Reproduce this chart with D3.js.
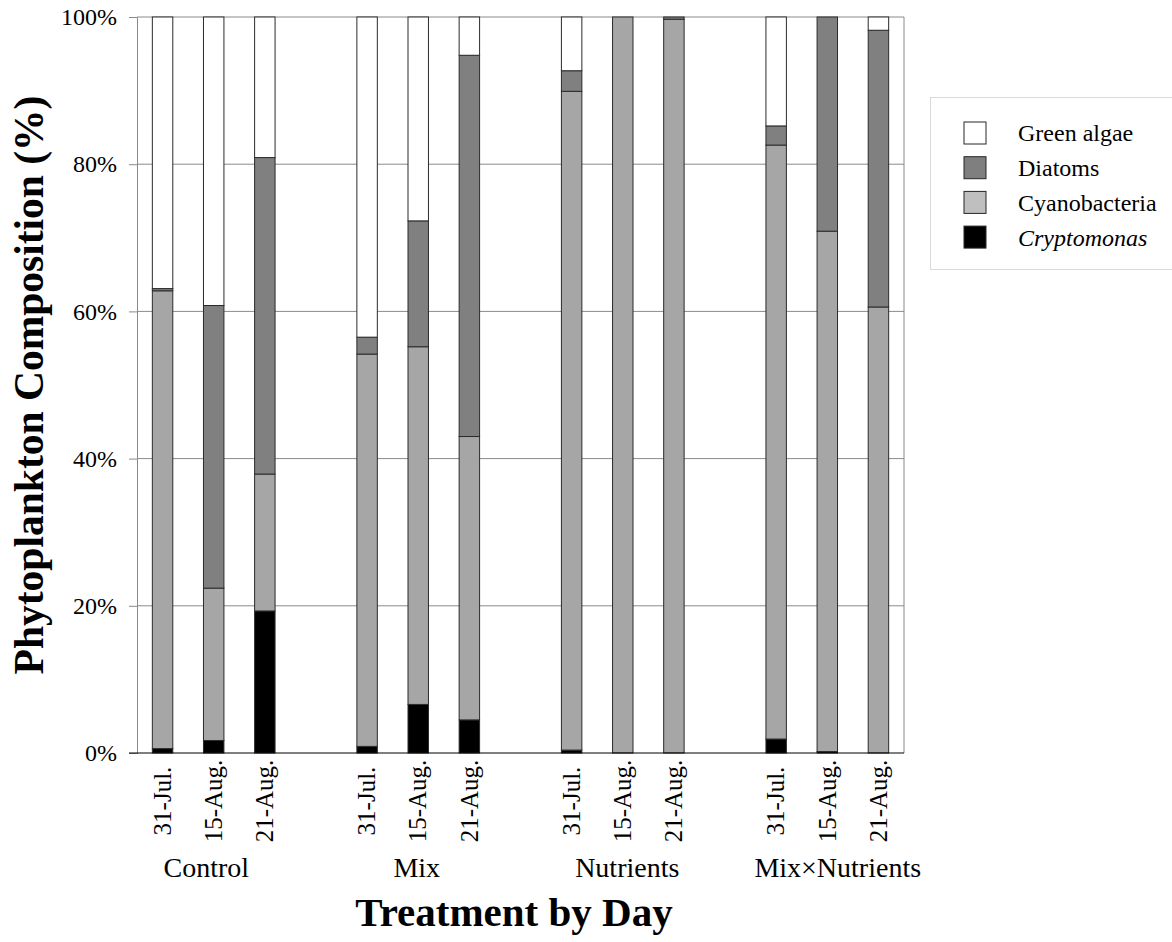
<!DOCTYPE html>
<html>
<head>
<meta charset="utf-8">
<script src="https://cdn.jsdelivr.net/npm/d3@7"></script>
<style>
  body { margin: 0; background: #fff; }
  svg text { font-family: "Liberation Serif", "Times New Roman", serif; fill: #000; }
</style>
</head>
<body>
<div id="chart"></div>
<script>
// values (percent of composition)
var groups = ["Control", "Mix", "Nutrients", "Mix×Nutrients"];
var days = ["31-Jul.", "15-Aug.", "21-Aug."];
var cryptomonas   = [0.6, 1.7, 19.3,  0.9, 6.6, 4.5,   0.4, 0, 0,       1.9, 0.2, 0];
var cyanobacteria = [62.2, 20.7, 18.6, 53.3, 48.6, 38.5, 89.5, 100, 99.7, 80.7, 70.7, 60.6];
var diatoms       = [0.3, 38.4, 43.0,  2.3, 17.1, 51.8,  2.8, 0, 0.3,     2.6, 29.1, 37.6];
var greenAlgae    = [36.9, 39.2, 19.1, 43.5, 27.7, 5.2,  7.3, 0, 0,       14.8, 0, 1.8];
var yTicks = [0, 20, 40, 60, 80, 100];

var keys = ["crypto", "cyano", "diatoms", "green"];
var barFill = { crypto: "#000000", cyano: "#a6a6a6", diatoms: "#808080", green: "#ffffff" };
var legendItems = [
    { name: "Green algae", fill: "#ffffff", italic: false },
    { name: "Diatoms", fill: "#7f7f7f", italic: false },
    { name: "Cyanobacteria", fill: "#bfbfbf", italic: false },
    { name: "Cryptomonas", fill: "#000000", italic: true }
];

var width = 1172, height = 942;
var plot = { left: 137, right: 904, top: 17, bottom: 753 };

// one row per bar, plus empty slots between treatments
var rows = [];
var domain = [];
groups.forEach(function(g, gi) {
    days.forEach(function(d, di) {
        var i = gi * days.length + di;
        var key = g + "|" + d;
        rows.push({ key: key, group: g, day: d,
            crypto: cryptomonas[i], cyano: cyanobacteria[i],
            diatoms: diatoms[i], green: greenAlgae[i] });
        domain.push(key);
    });
    if (gi < groups.length - 1) domain.push("gap" + gi);
});

var x = d3.scaleBand().domain(domain)
    .range([plot.left, plot.right])
    .paddingInner(0.6).paddingOuter(0.3);
// treatment labels sit on a slightly wider band than the bars
var xGroup = d3.scaleBand().domain(groups).range([101, 943]);
var y = d3.scaleLinear().domain([0, 100]).range([plot.bottom, plot.top]);

var svg = d3.select("#chart").append("svg")
    .attr("width", width).attr("height", height);

// gridlines
svg.append("g").selectAll("line")
    .data(yTicks.filter(function(t) { return t > 0; }))
    .enter().append("line")
    .attr("x1", plot.left).attr("x2", plot.right)
    .attr("y1", function(d) { return y(d); })
    .attr("y2", function(d) { return y(d); })
    .attr("stroke", "#8a8a8a").attr("stroke-width", 1);

// right border
svg.append("line")
    .attr("x1", plot.right).attr("x2", plot.right)
    .attr("y1", plot.top).attr("y2", plot.bottom)
    .attr("stroke", "#8a8a8a").attr("stroke-width", 1);

// y axis
var yAxis = svg.append("g")
    .attr("transform", "translate(" + plot.left + ",0)")
    .call(d3.axisLeft(y).tickValues(yTicks).tickSize(8).tickPadding(12)
        .tickFormat(function(d) { return d + "%"; }));
yAxis.select(".domain").attr("stroke", "#8a8a8a");
yAxis.selectAll(".tick line").attr("stroke", "#8a8a8a");
yAxis.selectAll(".tick text")
    .style("font-family", "'Liberation Serif', 'Times New Roman', serif")
    .style("font-size", "24px").attr("fill", "#000");

// stacked bars
var stack = d3.stack().keys(keys);
var layers = stack(rows);

svg.append("g").selectAll("g")
    .data(layers)
    .enter().append("g")
    .attr("fill", function(d) { return barFill[d.key]; })
    .selectAll("rect")
    .data(function(d) { return d.filter(function(s) { return s[1] - s[0] > 0; }); })
    .enter().append("rect")
    .attr("x", function(d) { return x(d.data.key); })
    .attr("width", x.bandwidth())
    .attr("y", function(d) { return y(d[1]); })
    .attr("height", function(d) { return y(d[0]) - y(d[1]); })
    .attr("stroke", "#2b2b2b").attr("stroke-width", 1);

// bottom axis line
svg.append("line")
    .attr("x1", plot.left - 8).attr("x2", plot.right)
    .attr("y1", plot.bottom).attr("y2", plot.bottom)
    .attr("stroke", "#000").attr("stroke-width", 1.2);

// day labels, rotated
svg.append("g").selectAll("text")
    .data(rows)
    .enter().append("text")
    .attr("transform", function(d) {
        return "translate(" + (x(d.key) + x.bandwidth() / 2) + "," + 801 + ") rotate(-90)";
    })
    .attr("text-anchor", "middle")
    .attr("dy", "0.33em")
    .style("font-size", "25px")
    .text(function(d) { return d.day; });

// treatment labels
svg.append("g").selectAll("text")
    .data(groups)
    .enter().append("text")
    .attr("x", function(g) { return xGroup(g) + xGroup.bandwidth() / 2; })
    .attr("y", 877)
    .attr("text-anchor", "middle")
    .style("font-size", "28px")
    .text(function(g) { return g; });

// axis titles
svg.append("text")
    .attr("x", 514).attr("y", 926)
    .attr("text-anchor", "middle")
    .style("font-size", "41px").style("font-weight", "bold")
    .text("Treatment by Day");

svg.append("text")
    .attr("transform", "translate(43," + ((plot.top + plot.bottom) / 2) + ") rotate(-90)")
    .attr("text-anchor", "middle")
    .style("font-size", "41.5px").style("font-weight", "bold")
    .text("Phytoplankton Composition (%)");

// legend
var legend = svg.append("g").attr("transform", "translate(930,97)");
legend.append("rect")
    .attr("x", 0.5).attr("y", 0.5)
    .attr("width", 260).attr("height", 172)
    .attr("fill", "#fff").attr("stroke", "#d9d9d9").attr("stroke-width", 1);

var item = legend.selectAll(".item")
    .data(legendItems)
    .enter().append("g")
    .attr("class", "item")
    .attr("transform", function(d, i) { return "translate(34," + (25 + i * 34.7) + ")"; });

item.append("rect")
    .attr("width", 22).attr("height", 22)
    .attr("fill", function(d) { return d.fill; })
    .attr("stroke", "#262626").attr("stroke-width", 1);

item.append("text")
    .attr("x", 54).attr("y", 11).attr("dy", "0.35em")
    .style("font-size", "24px")
    .style("font-style", function(d) { return d.italic ? "italic" : "normal"; })
    .text(function(d) { return d.name; });
</script>
</body>
</html>
